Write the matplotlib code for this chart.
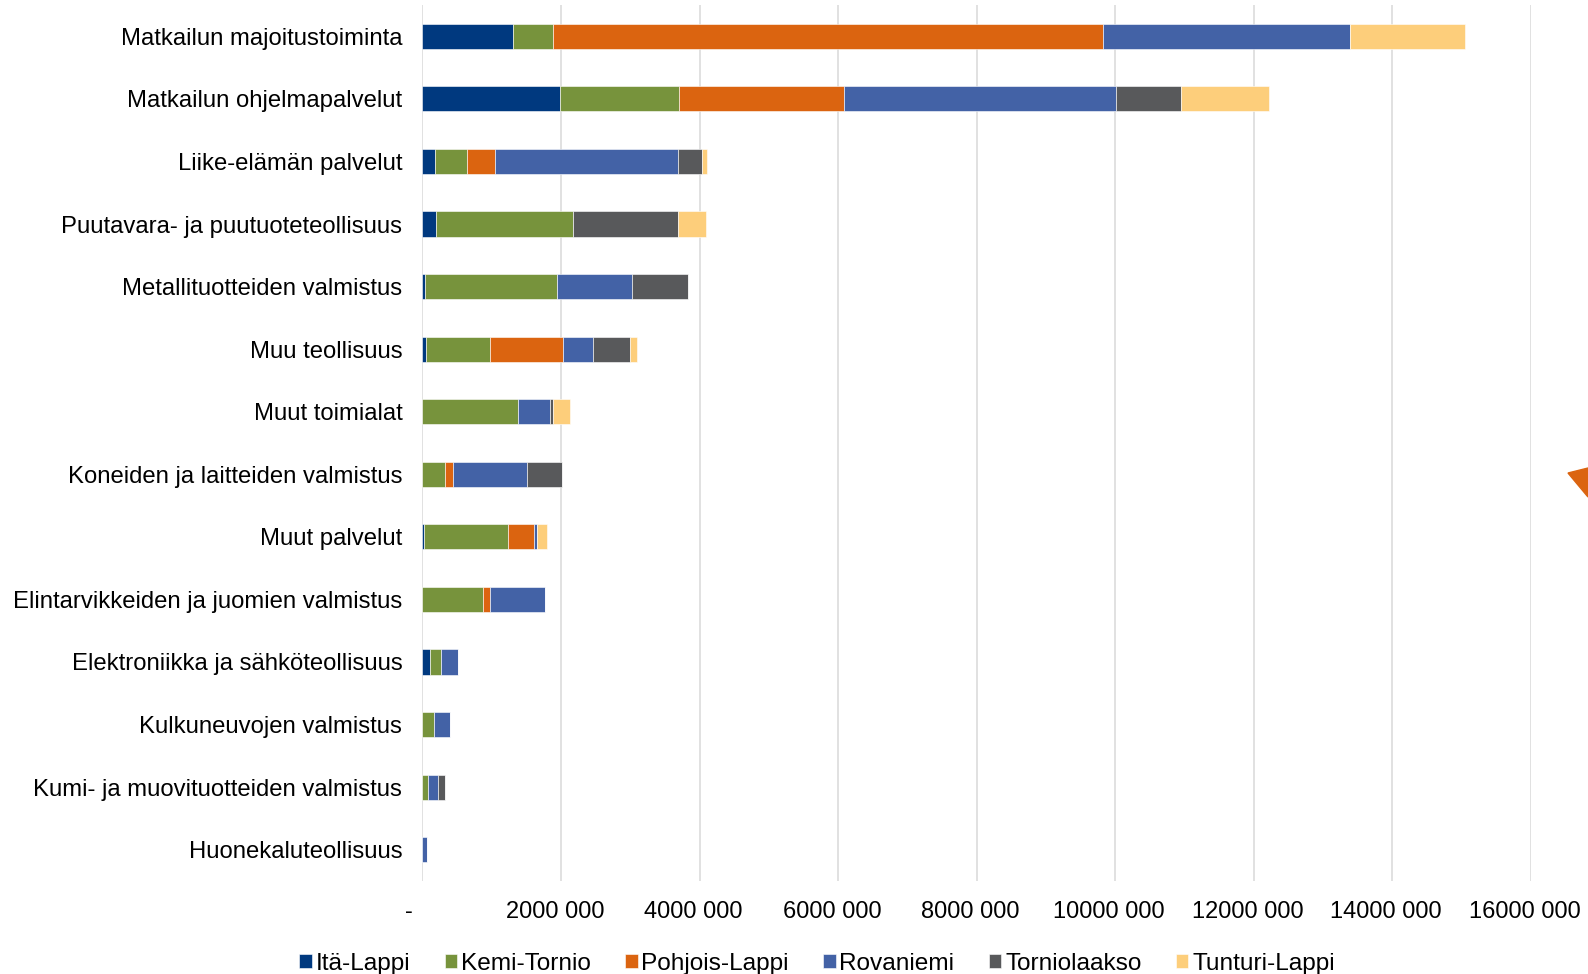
import matplotlib
matplotlib.use("Agg")
import matplotlib.pyplot as plt
from matplotlib.patches import Polygon
from matplotlib.transforms import ScaledTranslation

plt.rcParams["font.family"] = ["Liberation Sans", "DejaVu Sans"]

categories = [
    "Matkailun majoitustoiminta",
    "Matkailun ohjelmapalvelut",
    "Liike-elämän palvelut",
    "Puutavara- ja puutuoteteollisuus",
    "Metallituotteiden valmistus",
    "Muu teollisuus",
    "Muut toimialat",
    "Koneiden ja laitteiden valmistus",
    "Muut palvelut",
    "Elintarvikkeiden ja juomien valmistus",
    "Elektroniikka ja sähköteollisuus",
    "Kulkuneuvojen valmistus",
    "Kumi- ja muovituotteiden valmistus",
    "Huonekaluteollisuus",
]

# values in euros
ita_lappi = [1300000, 1990000, 180000, 200000, 30000, 50000, 0, 0, 20000, 0, 110000, 0, 0, 0]
kemi_tornio = [580000, 1710000, 460000, 1970000, 1910000, 920000, 1375000, 330000, 1210000, 880000, 160000, 160000, 80000, 0]
pohjois_lappi = [7940000, 2390000, 410000, 0, 0, 1060000, 0, 110000, 385000, 90000, 0, 0, 0, 0]
rovaniemi = [3570000, 3920000, 2640000, 0, 1080000, 430000, 460000, 1070000, 40000, 800000, 245000, 230000, 140000, 65000]
torniolaakso = [0, 940000, 340000, 1520000, 810000, 540000, 50000, 500000, 0, 0, 0, 0, 100000, 0]
tunturi_lappi = [1660000, 1270000, 80000, 410000, 0, 90000, 240000, 0, 140000, 0, 0, 0, 0, 0]

series_names = ["Itä-Lappi", "Kemi-Tornio", "Pohjois-Lappi", "Rovaniemi", "Torniolaakso", "Tunturi-Lappi"]
series_values = [ita_lappi, kemi_tornio, pohjois_lappi, rovaniemi, torniolaakso, tunturi_lappi]
colors = ["#00397F", "#77933C", "#DB6410", "#4362A6", "#58595B", "#FDCE7B"]

x_ticks = [0, 2000000, 4000000, 6000000, 8000000, 10000000, 12000000, 14000000, 16000000]
x_tick_labels = ["-", "2000 000", "4000 000", "6000 000", "8000 000",
                 "10000 000", "12000 000", "14000 000", "16000 000"]

W, H = 1588, 974
fig = plt.figure(figsize=(W / 100, H / 100), dpi=100)
ax = fig.add_axes([422.5 / W, 1 - 881 / H, (1530.7 - 422.5) / W, (881 - 5) / H])

y = list(range(len(categories)))
left = [0] * len(categories)
handles = []
for name, vals, col in zip(series_names, series_values, colors):
    b = ax.barh(y, vals, left=left, height=0.4, color=col, edgecolor="white",
                linewidth=0.4, label=name, zorder=3)
    handles.append(b)
    left = [l + v for l, v in zip(left, vals)]

ax.set_ylim(len(categories) - 0.5, -0.5)
ax.set_xlim(0, 16000000)
ax.set_yticks(y)
ax.set_yticklabels(categories, fontsize=17.2, color="black")
ax.set_xticks(x_ticks)
ax.set_xticklabels(x_tick_labels, fontsize=17, color="black")
ax.tick_params(axis="y", length=0, pad=14.5)
ax.tick_params(axis="x", length=0, pad=14.5)

for lbl in ax.get_xticklabels():
    shift = -14 if lbl.get_text() == "-" else -6
    lbl.set_transform(lbl.get_transform() + ScaledTranslation(shift / 100, 0, fig.dpi_scale_trans))

for s in ax.spines.values():
    s.set_visible(False)
ax.grid(axis="x", color="#D9D9D9", linewidth=1.1, zorder=0)
ax.set_axisbelow(True)

fig.legend(handles=handles, labels=series_names, loc="center",
           bbox_to_anchor=(817 / W, 1 - 964 / H), ncol=6, frameon=False,
           fontsize=17.6, handlelength=0.52, handleheight=0.52,
           handletextpad=0.15, columnspacing=1.4, borderpad=0)

# piece of an orange arrow cut by the right edge
tri = Polygon([(1568 / W, 1 - 473 / H), (1588 / W, 1 - 468 / H), (1588 / W, 1 - 497 / H)],
              closed=True, transform=fig.transFigure, color="#DB6410", clip_on=False)
fig.patches.append(tri)

fig.savefig("out.png", dpi=100)
